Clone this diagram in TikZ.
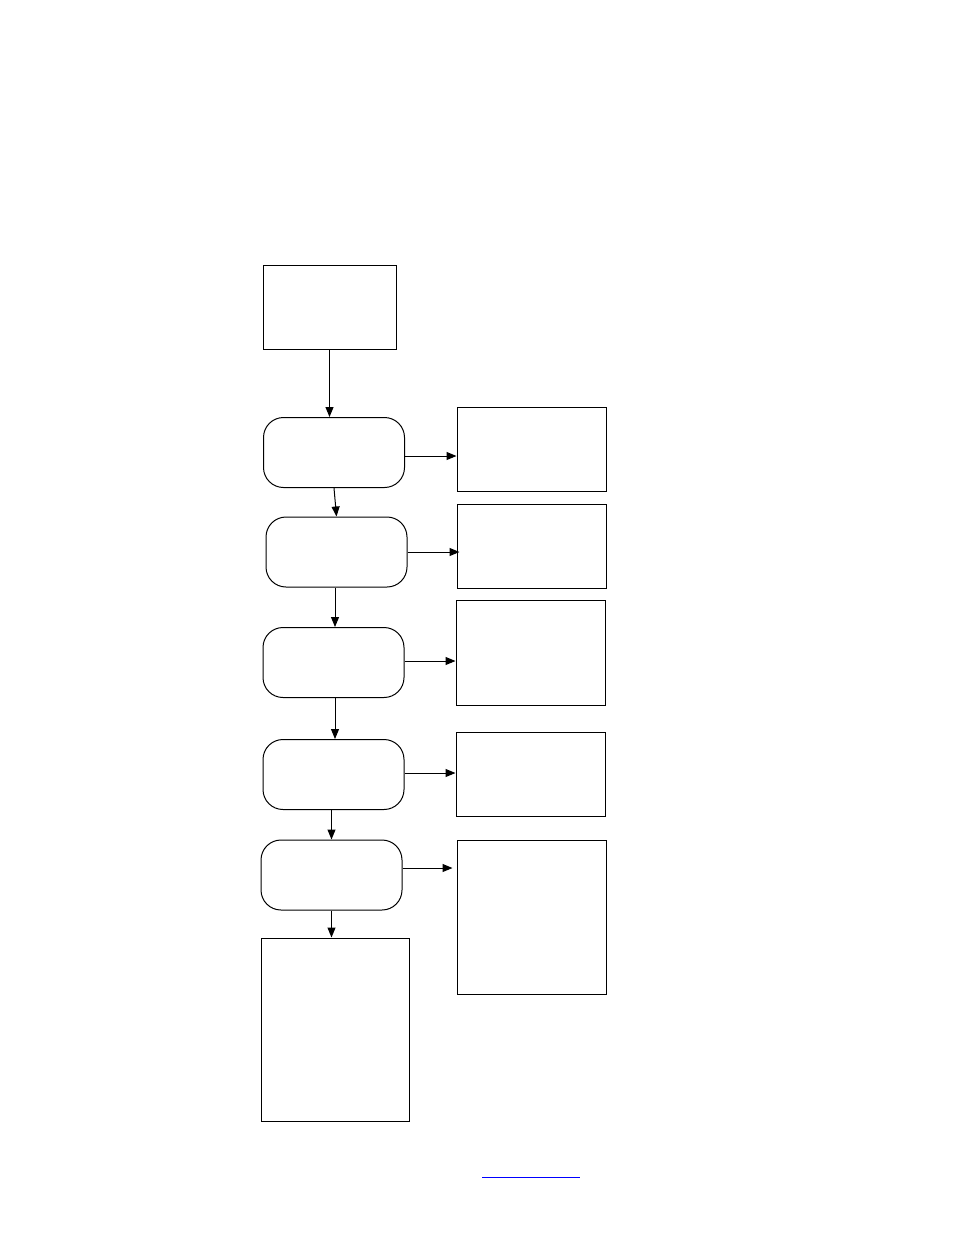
\documentclass[tikz,border=0pt]{standalone}
\usetikzlibrary{arrows.meta}

\begin{document}
\begin{tikzpicture}[x=1pt,y=-1pt,
  box/.style={draw,line width=1pt,inner sep=0pt,minimum width=#1},
  box/.default=149pt,
  stage/.style={draw,line width=1pt,rounded corners=20pt,inner sep=0pt,minimum width=141pt,minimum height=70pt},
  flow/.style={-{Triangle[length=10pt,width=8pt]},line width=1pt}]
\useasboundingbox (0,0) rectangle (954,1235);
% Start box
\node[box=133pt,minimum height=84pt] (start) at (329.5,307) {};
% Left column of stages
\node[stage] (s1) at (334,452.5) {};
\node[stage] (s2) at (336.5,552) {};
\node[stage] (s3) at (333.5,662.5) {};
\node[stage] (s4) at (333.5,774.5) {};
\node[stage] (s5) at (331.5,875) {};
% Right column of boxes
\node[box,minimum height=84pt] (out1) at (531.5,449) {};
\node[box,minimum height=84pt] (out2) at (531.5,546) {};
\node[box,minimum height=105pt] (out3) at (530.5,652.5) {};
\node[box,minimum height=84pt] (out4) at (530.5,774) {};
\node[box,minimum height=154pt] (out5) at (531.5,917) {};
% End box
\node[box=148pt,minimum height=183pt] (end) at (335,1029.5) {};

%%% Edges
\draw[flow] (start.south) -- (start.south |- s1.north);
\draw[flow] (s1.south) -- (s2.north);
\draw[flow] ([xshift=-1.5pt]s2.south) -- ([xshift=-1.5pt]s2.south |- s3.north);
\draw[flow] ([xshift=1.5pt]s3.south) -- ([xshift=1.5pt]s3.south |- s4.north);
\draw[flow] (s5.north |- s4.south) -- (s5.north);
\draw[flow] (s5.south) -- (s5.south |- end.north);
\draw[flow] ([yshift=-3.5pt]s1.east) -- ([yshift=-3.5pt]s1.east -| out1.west);
\draw[flow] (s2.east) -- ([xshift=3pt]out2.west |- s2.east);
\draw[flow] ([yshift=1.5pt]s3.east) -- ([yshift=1.5pt]s3.east -| out3.west);
\draw[flow] ([yshift=1.5pt]s4.east) -- ([yshift=1.5pt]s4.east -| out4.west);
\draw[flow] ([yshift=7pt]s5.east) -- ([xshift=-4pt,yshift=7pt]s5.east -| out5.west);
% Link underline
\coordinate (linkA) at (482,1177);
\coordinate (linkB) at (580,1177);
\draw[blue,line width=1pt] (linkA) -- (linkB);
\end{tikzpicture}
\end{document}
